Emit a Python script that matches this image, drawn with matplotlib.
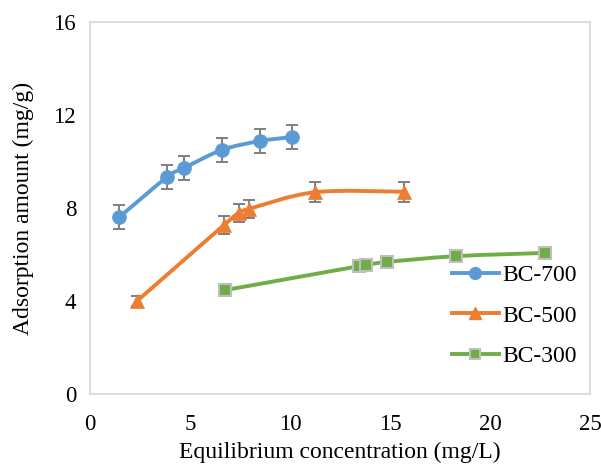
import numpy as np
import matplotlib
matplotlib.use("Agg")
import matplotlib.pyplot as plt
from matplotlib.path import Path
from matplotlib.patches import PathPatch
from matplotlib.lines import Line2D

plt.rcParams["font.family"] = ["Liberation Serif", "DejaVu Serif"]

# data
bc700_x = [1.45, 3.85, 4.7, 6.6, 8.5, 10.1]
bc700_y = [7.6, 9.33, 9.72, 10.5, 10.88, 11.05]
bc700_err = [0.52, 0.52, 0.52, 0.52, 0.52, 0.52]

bc500_x = [2.35, 6.7, 7.45, 7.95, 11.25, 15.7]
bc500_y = [4.0, 7.27, 7.8, 7.96, 8.68, 8.7]
bc500_err = [0.2, 0.37, 0.39, 0.39, 0.44, 0.44]

bc300_x = [6.75, 13.45, 13.8, 14.85, 18.3, 22.75]
bc300_y = [4.47, 5.5, 5.55, 5.68, 5.93, 6.07]

BLUE = "#5b9bd5"
ORANGE = "#ed7d31"
GREEN = "#70ad47"
GRAY = "#7f7f7f"


def smooth_path(xs, ys, tension=1 / 6):
    """Excel-like smoothed line: cubic bezier through the points."""
    pts = np.column_stack([xs, ys])
    n = len(pts)
    verts = [pts[0]]
    codes = [Path.MOVETO]
    for i in range(n - 1):
        p0 = pts[i - 1] if i > 0 else pts[i]
        p1 = pts[i]
        p2 = pts[i + 1]
        p3 = pts[i + 2] if i + 2 < n else pts[i + 1]
        c1 = p1 + (p2 - p0) * tension
        c2 = p2 - (p3 - p1) * tension
        verts += [c1, c2, p2]
        codes += [Path.CURVE4] * 3
    return Path(verts, codes)


fig = plt.figure(figsize=(6.01, 4.68), dpi=100)
ax = fig.add_axes([0.1498, 0.158, 0.8319, 0.795])

series = [
    (bc700_x, bc700_y, bc700_err, BLUE, "o", BLUE, 10),
    (bc500_x, bc500_y, bc500_err, ORANGE, "^", ORANGE, 10.5),
    (bc300_x, bc300_y, None, GREEN, "s", "#bfbfbf", 8.5),
]

for xs, ys, err, color, mk, edge, ms in series:
    if err is not None:
        ax.errorbar(xs, ys, yerr=err, fmt="none", ecolor=GRAY, elinewidth=1.4,
                    capsize=4, capthick=1.4, zorder=2)
    ax.add_patch(PathPatch(smooth_path(xs, ys), facecolor="none", edgecolor=color,
                           linewidth=2.8, capstyle="round", zorder=3))
    ax.plot(xs, ys, linestyle="none", marker=mk, markersize=ms, color=color,
            markeredgecolor=edge, markeredgewidth=1.5 if mk == "s" else 0.5, zorder=4)

ax.set_xlim(0, 25)
ax.set_ylim(0, 16)
ax.set_xticks(range(0, 26, 5))
ax.set_yticks(range(0, 17, 4))
ax.tick_params(length=0, labelsize=16.5)
ax.tick_params(axis="x", pad=14)
ax.tick_params(axis="y", pad=10)
for s in ax.spines.values():
    s.set_color("#d9d9d9")
    s.set_linewidth(1.3)

ax.set_xlabel("Equilibrium concentration (mg/L)", fontsize=17, labelpad=5)
ax.set_ylabel("Adsorption amount (mg/g)", fontsize=17, labelpad=14)

handles = [
    Line2D([], [], color=BLUE, lw=2.8, marker="o", markersize=8.5, markeredgecolor=BLUE),
    Line2D([], [], color=ORANGE, lw=2.8, marker="^", markersize=8.5, markeredgecolor=ORANGE),
    Line2D([], [], color=GREEN, lw=2.8, marker="s", markersize=7,
           markeredgecolor="#bfbfbf", markeredgewidth=1.5),
]
ax.legend(handles, ["BC-700", "BC-500", "BC-300"], loc="upper left",
          bbox_to_anchor=(0.681, 0.405), frameon=False, fontsize=17,
          handlelength=2.0, labelspacing=0.8, handletextpad=0.15)

fig.savefig("out.png", dpi=100)
